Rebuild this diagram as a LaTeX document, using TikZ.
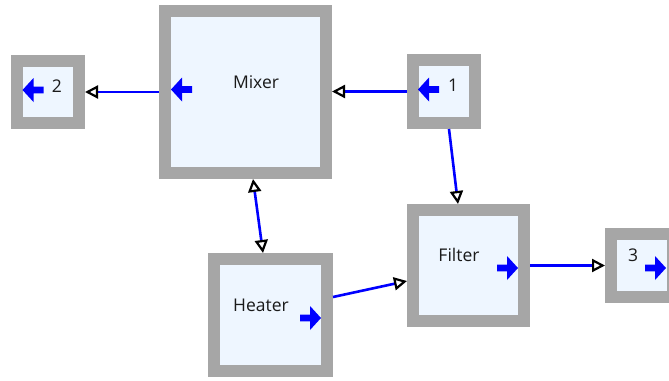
\documentclass[tikz,border=0pt]{standalone}
\usepackage{fontspec}
\setmainfont{Open Sans}
\usetikzlibrary{arrows.meta}
\definecolor{boxgray}{HTML}{A6A6A6}
\definecolor{boxfill}{HTML}{EEF6FF}
\definecolor{iconblue}{HTML}{0000FF}
\definecolor{txt}{HTML}{1A1A1A}
\tikzset{
  blk/.style={draw=boxgray, line width=12pt, fill=boxfill, inner sep=0pt, rectangle},
  lbl/.style={font=\fontsize{17.5}{20}\selectfont, text=txt, inner sep=0pt},
  otip/.tip={Triangle[open, length=13pt, width=13pt, color=black, fill=white, line width=2.2pt]},
  conn/.style={draw=iconblue, line width=2.6pt, -otip},
  biconn/.style={draw=iconblue, line width=2.6pt, otip-otip},
  larr/.pic={\fill[iconblue] (0,0) -- (11,-12) -- (11,-3.4) -- (21,-3.4) -- (21,3.4) -- (11,3.4) -- (11,12) -- cycle;},
  rarr/.pic={\fill[iconblue] (0,0) -- (-11,-12) -- (-11,-3.4) -- (-21,-3.4) -- (-21,3.4) -- (-11,3.4) -- (-11,12) -- cycle;}
}
\begin{document}
\begin{tikzpicture}[x=1pt, y=-1pt]
\useasboundingbox (0,0) rectangle (669,380);
% boxes
\node[blk, minimum width=62pt, minimum height=62pt] (b2) at (48,92) {};
\node[blk, minimum width=161pt, minimum height=162pt] (mixer) at (245.5,92) {};
\node[blk, minimum width=62pt, minimum height=63pt] (b1) at (444,91.5) {};
\node[blk, minimum width=113pt, minimum height=112pt] (heater) at (270.5,315) {};
\node[blk, minimum width=111pt, minimum height=111pt] (filter) at (468.5,265.5) {};
\node[blk, minimum width=62pt, minimum height=63pt] (b3) at (642,265.5) {};
% labels
\node[lbl] (t2) at (57,86) {2};
\node[lbl] (tmixer) at (256,82) {Mixer};
\node[lbl] (t1) at (453,85) {1};
\node[lbl] (theater) at (261,305) {Heater};
\node[lbl] (tfilter) at (459,255) {Filter};
\node[lbl] (t3) at (633,255) {3};
% port icons
\pic at (22.5,90) {larr};
\pic at (171,89.5) {larr};
\pic at (418,89.5) {larr};
\pic at (321,318) {rarr};
\pic at (518,268) {rarr};
\pic at (666,268) {rarr};
% connectors
\draw[conn] (mixer.west) -- (b2.east);
\draw[conn] (b1.west) -- (mixer.east |- b1.west);
\draw[conn] ([xshift=5pt]b1.south) -- ([xshift=-10.5pt]filter.north);
\draw[biconn] ([xshift=7.5pt]mixer.south) -- ([xshift=-7.5pt]heater.north);
\draw[conn] ([yshift=18pt]heater.east) -- ([yshift=-15.5pt]filter.west);
\draw[conn] (filter.east) -- (b3.west);
\end{tikzpicture}
\end{document}
